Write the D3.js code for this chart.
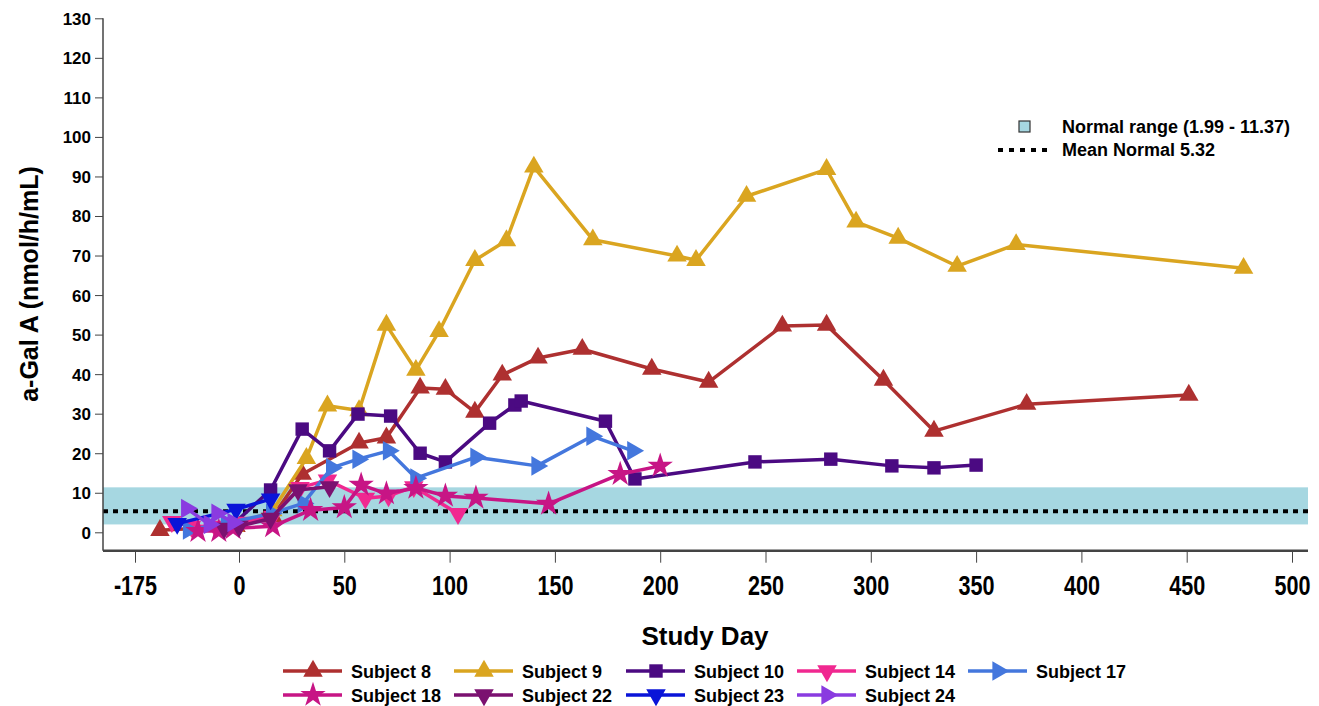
<!DOCTYPE html>
<html>
<head>
<meta charset="utf-8">
<script src="https://cdn.jsdelivr.net/npm/d3@7"></script>
<style>
  body { margin: 0; background: #fff; }
  text { font-family: "Liberation Sans", Arial, sans-serif; font-weight: bold; fill: #000; }
</style>
</head>
<body>
<svg id="chart" width="1319" height="706"></svg>
<script>
// ---- data: [study day, a-Gal A (nmol/h/mL)] ----
const subjectNames = ["Subject 8", "Subject 9", "Subject 10", "Subject 14", "Subject 17",
                      "Subject 18", "Subject 22", "Subject 23", "Subject 24"];

const subject8 = [[-133, 0.5], [-5, 1.5], [16, 4], [30, 14.7], [57, 22.6], [70, 23.9], [86, 36.5],
  [98, 36.2], [112, 30.4], [125, 39.8], [142, 44.1], [163, 46.3], [196, 41.3], [223, 38],
  [258, 52.2], [279, 52.4], [306, 38.5], [330, 25.6], [374, 32.4], [451, 34.7]];
const subject9 = [[-8, 1.5], [16, 5.5], [32, 18.7], [42, 32], [57, 30.8], [70, 52.4], [84, 41],
  [95, 50.8], [112, 68.8], [127, 73.8], [140, 92.4], [168, 74], [208, 69.9], [217, 68.8],
  [241, 85], [279, 91.8], [293, 78.5], [313, 74.4], [341, 67.3], [369, 72.8], [477, 66.8]];
const subject10 = [[-10, 2], [15, 10.7], [30, 26.1], [43, 20.6], [56.5, 29.9], [72, 29.4],
  [86, 20], [98, 17.8], [119, 27.6], [131, 32.2], [134, 33.2], [174, 28.1], [188, 13.5],
  [245, 17.8], [281, 18.5], [310, 16.8], [330, 16.3], [350, 17]];
const subject14 = [[-113, 2.7], [-80, 1.5], [-40, 1.5], [0, 2.5], [16, 4], [29, 11.3], [42, 13.2],
  [60, 8.6], [71, 9.2], [83, 11.5], [104, 4.7]];
const subject17 = [[-85, 0.6], [-21, 2.3], [15.5, 4.8], [30.5, 7.3], [44, 16.3], [56.5, 18.5],
  [71, 20.6], [84, 13.7], [112.5, 19], [141.5, 16.8], [167.6, 24.3], [187, 20.6]];
const subject18 = [[-69, 0.3], [-34, 0.3], [-10, 1], [16, 1.5], [34, 5.6], [50, 6.3], [58, 12],
  [70, 9.8], [84, 11.2], [98, 9.2], [112.5, 8.7], [147, 7.2], [181, 14.7], [200, 16.8]];
const subject22 = [[-25, 1], [0, 1.5], [15, 3.5], [28, 10.7], [43, 11.5]];
const subject23 = [[-104, 2.2], [-5, 5.8], [15, 8.4]];
const subject24 = [[-88, 6], [-50, 2], [-37, 4.8], [-10, 2.5]];

const seriesValues = [subject8, subject9, subject10, subject14, subject17,
                      subject18, subject22, subject23, subject24];

const xTickValues = [-175, 0, 50, 100, 150, 200, 250, 300, 350, 400, 450, 500];
const yTickValues = [0, 10, 20, 30, 40, 50, 60, 70, 80, 90, 100, 110, 120, 130];

const normalLow = 1.99, normalHigh = 11.37, normalMean = 5.32;

// ---- styles ----
const colors = ["#AE3030", "#DAA520", "#4B0A82", "#F02890", "#4477DD",
                "#C71585", "#7B1170", "#0A14D8", "#8A3BE0"];
// symbol type and rotation per subject
const markers = [
  [d3.symbolTriangle, 0], [d3.symbolTriangle, 0], [d3.symbolSquare, 0],
  [d3.symbolTriangle, 180], [d3.symbolTriangle, 90], [d3.symbolStar, 0],
  [d3.symbolTriangle, 180], [d3.symbolTriangle, 180], [d3.symbolTriangle, 90]
];
const markerSize = t => t === d3.symbolSquare ? 180 : (t === d3.symbolStar ? 200 : 165);

const svg = d3.select("#chart");
svg.append("rect").attr("width", 1319).attr("height", 706).attr("fill", "#fff");

// pre-dose days are drawn on a compressed segment left of day 0
const x = d3.scaleLinear().domain([-175, 0, 500]).range([135, 239, 1292]);
const y = d3.scaleLinear().domain([0, 130]).range([532.3, 18.3]);

const plotLeft = 103, plotRight = 1308, axisY = 550.7;

// normal range band and mean line
svg.append("rect")
  .attr("x", plotLeft).attr("width", plotRight - plotLeft)
  .attr("y", y(normalHigh)).attr("height", y(normalLow) - y(normalHigh))
  .attr("fill", "#A6D7E1");
svg.append("line")
  .attr("x1", plotLeft).attr("x2", plotRight)
  .attr("y1", y(normalMean)).attr("y2", y(normalMean))
  .attr("stroke", "#000").attr("stroke-width", 4).attr("stroke-dasharray", "5,5");

// axes
const yAxis = svg.append("g")
  .attr("transform", `translate(${plotLeft},0)`)
  .call(d3.axisLeft(y).tickValues(yTickValues).tickSize(8).tickPadding(4));
yAxis.select(".domain").remove();
yAxis.selectAll("text").style("font-size", "17px").attr("dy", "0.35em");
yAxis.selectAll("line").attr("stroke", "#444");
svg.append("line").attr("x1", plotLeft).attr("x2", plotLeft)
  .attr("y1", y(130)).attr("y2", axisY).attr("stroke", "#444").attr("stroke-width", 1.5);

const xAxis = svg.append("g")
  .attr("transform", `translate(0,${axisY})`)
  .call(d3.axisBottom(x).tickValues(xTickValues).tickSize(12).tickPadding(13)
        .tickFormat(d => d));
xAxis.select(".domain").remove();
// condensed, tall tick numerals
xAxis.selectAll("text").style("font-size", "27px")
  .attr("transform", "scale(0.8,1)");
xAxis.selectAll("line").attr("stroke", "#444");
svg.append("line").attr("x1", plotLeft).attr("x2", plotRight)
  .attr("y1", axisY).attr("y2", axisY).attr("stroke", "#444").attr("stroke-width", 2.5);

// axis titles
svg.append("text").attr("x", 705).attr("y", 645).attr("text-anchor", "middle")
  .style("font-size", "26px").text("Study Day");
svg.append("text").attr("transform", "translate(38,284) rotate(-90)")
  .attr("text-anchor", "middle").style("font-size", "25px").text("a-Gal A (nmol/h/mL)");

// series
const line = d3.line().x(d => x(d[0])).y(d => y(d[1]));
const symbolPath = t => d3.symbol().type(t).size(markerSize(t))();

seriesValues.forEach((vals, i) => {
  const g = svg.append("g");
  g.append("path").datum(vals).attr("d", line)
    .attr("fill", "none").attr("stroke", colors[i]).attr("stroke-width", 3.5)
    .attr("stroke-linejoin", "round");
  g.selectAll("path.m").data(vals).join("path").attr("class", "m")
    .attr("d", symbolPath(markers[i][0]))
    .attr("transform", d => `translate(${x(d[0])},${y(d[1])}) rotate(${markers[i][1]})`)
    .attr("fill", colors[i]);
});

// top-right legend
svg.append("rect").attr("x", 1019).attr("y", 121).attr("width", 11).attr("height", 11)
  .attr("fill", "#A6D7E1").attr("stroke", "#333").attr("stroke-width", 1.2);
svg.append("text").attr("x", 1062).attr("y", 133).style("font-size", "18px")
  .text(`Normal range (${normalLow} - ${normalHigh})`);
svg.append("line").attr("x1", 998).attr("x2", 1048).attr("y1", 150).attr("y2", 150)
  .attr("stroke", "#000").attr("stroke-width", 4).attr("stroke-dasharray", "5,6");
svg.append("text").attr("x", 1062).attr("y", 156).style("font-size", "18px")
  .text(`Mean Normal ${normalMean}`);

// bottom legend: two rows
const legendTextX = [351, 522, 694, 865, 1036];
const legendRowY = [671, 695];
subjectNames.forEach((name, i) => {
  const row = i < 5 ? 0 : 1;
  const col = i < 5 ? i : i - 5;
  const tx = legendTextX[col], ly = legendRowY[row];
  const g = svg.append("g");
  g.append("line").attr("x1", tx - 68).attr("x2", tx - 9).attr("y1", ly).attr("y2", ly)
    .attr("stroke", colors[i]).attr("stroke-width", 3.5);
  g.append("path").attr("d", symbolPath(markers[i][0]))
    .attr("transform", `translate(${tx - 38},${ly}) rotate(${markers[i][1]})`)
    .attr("fill", colors[i]);
  g.append("text").attr("x", tx).attr("y", ly + 6.5).style("font-size", "18px").text(name);
});
</script>
</body>
</html>
